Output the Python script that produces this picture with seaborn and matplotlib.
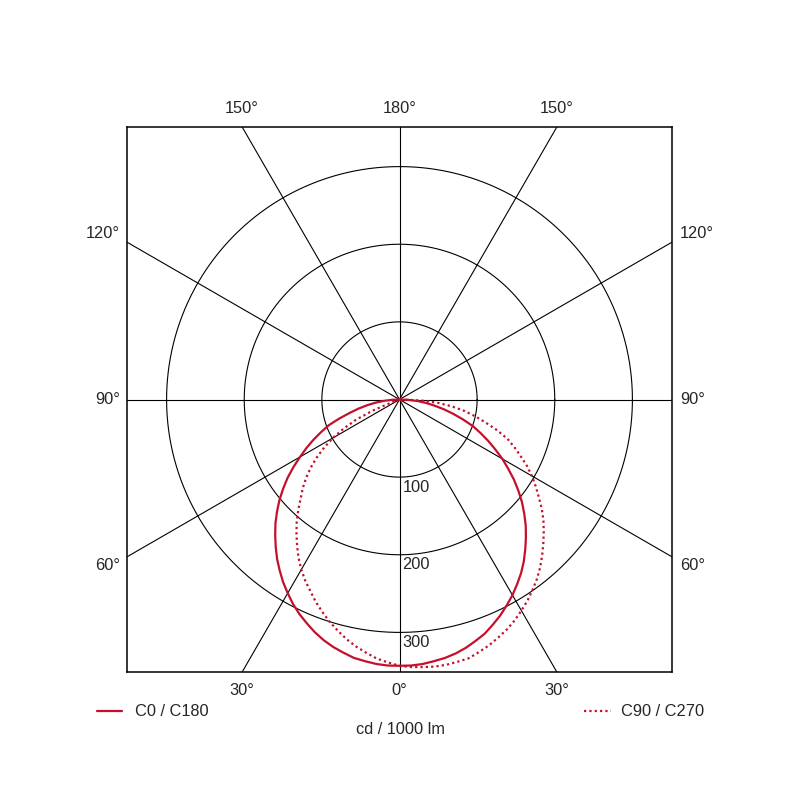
import numpy as np
import pandas as pd
import matplotlib
matplotlib.use('Agg')
import matplotlib.pyplot as plt
import seaborn as sns

# Luminous intensity distribution, cd / 1000 lm, every 2.5 degrees
gamma = [0, 2.5, 5, 7.5, 10, 12.5, 15, 17.5, 20, 22.5, 25, 27.5, 30, 32.5, 35, 37.5,
         40, 42.5, 45, 47.5, 50, 52.5, 55, 57.5, 60, 62.5, 65, 67.5, 70, 72.5, 75,
         77.5, 80, 82.5, 85, 87.5, 90]
c0 = [343, 343, 342, 340, 338, 335, 331, 326, 321, 314, 307, 299, 291, 282, 273, 263,
      252, 241, 230, 218, 206, 193, 180, 166, 153, 139, 126, 113, 101, 86, 72,
      59, 46, 35, 24, 12, 0]
c180 = [343, 343, 342, 340, 338, 334, 330, 325, 319, 312, 305, 297, 288, 279, 269, 259,
        248, 237, 226, 214, 202, 189, 176, 162, 148, 135, 122, 109, 97, 81, 66,
        54, 42, 31, 20, 10, 0]
c90 = [343, 345, 346, 347, 347, 346, 345, 341, 337, 332, 327, 321, 314, 307, 299, 291,
       282, 272, 262, 252, 242, 231, 219, 208, 197, 185, 172, 160, 148, 132, 115,
       100, 85, 68, 50, 27, 0]
c270 = [343, 339, 335, 329, 323, 316, 308, 300, 291, 282, 272, 263, 253, 242, 230, 218,
        206, 193, 180, 169, 157, 144, 130, 115, 99, 81, 62, 37, 10, 0, 0,
        0, 0, 0, 0, 0, 0]

ring_values = [100, 200, 300]
spoke_angles = [0, 30, 60, 90, 120, 150]
top_labels = ['150°', '180°', '150°']
bottom_labels = ['30°', '0°', '30°']
side_labels = ['120°', '90°', '60°']

RED = '#c4102c'
R = 351  # half width of the square frame, in cd
FS = 11.8

sns.set_style('white')
plt.rcParams['font.family'] = ['Liberation Sans', 'DejaVu Sans']
plt.rcParams['font.size'] = FS


def half_plane(values, side):
    g = np.radians(gamma)
    v = np.array(values, dtype=float)
    return side * v * np.sin(g), -v * np.cos(g)


rows = []
for name, left, right in [('C0 / C180', c180, c0), ('C90 / C270', c270, c90)]:
    xl, yl = half_plane(left, -1)
    xr, yr = half_plane(right, 1)
    xs = np.concatenate([xl[::-1], xr[1:]])
    ys = np.concatenate([yl[::-1], yr[1:]])
    for i, (x, y) in enumerate(zip(xs, ys)):
        rows.append({'plane': name, 'step': i, 'x': x, 'y': y})
df = pd.DataFrame(rows)

fig = plt.figure(figsize=(8, 8), dpi=100)
ax = fig.add_axes([127 / 800, 128 / 800, 545 / 800, 545 / 800])

# grid: rings and spokes
t = np.linspace(0, 2 * np.pi, 400)
for r in ring_values:
    ax.plot(r * np.cos(t), r * np.sin(t), color='black', lw=0.8, zorder=1)
    ax.text(4, -(r + 13), str(r), ha='left', va='center', fontsize=FS)
for a in spoke_angles:
    d = np.radians(a)
    L = 3 * R
    ax.plot([-L * np.sin(d), L * np.sin(d)], [-L * np.cos(d), L * np.cos(d)],
            color='black', lw=0.8, zorder=1)

sns.lineplot(data=df, x='x', y='y', hue='plane', style='plane', sort=False,
             estimator=None, units='plane', ax=ax,
             palette={'C0 / C180': RED, 'C90 / C270': RED},
             dashes={'C0 / C180': '', 'C90 / C270': (1, 1.4)},
             linewidth=1.6, zorder=3)

handles, labels = ax.get_legend_handles_labels()
ax.get_legend().remove()

ax.set_xlim(-R, R)
ax.set_ylim(-R, R)
ax.set_aspect('equal')
ax.set_xticks([])
ax.set_yticks([])
ax.set_xlabel('')
ax.set_ylabel('')
for s in ax.spines.values():
    s.set_color('black')
    s.set_linewidth(1.1)

# angle labels round the frame
tan30 = np.tan(np.radians(30))
for k, lab in zip([-1, 0, 1], top_labels):
    ax.text(k * R * tan30, R + 24, lab, ha='center', va='center', clip_on=False)
for k, lab in zip([-1, 0, 1], bottom_labels):
    ax.text(k * R * tan30, -(R + 24), lab, ha='center', va='center', clip_on=False)
for k, lab in zip([1, 0, -1], side_labels):
    ax.text(-(R + 9), k * (R + 20) * tan30, lab, ha='right', va='center', clip_on=False)
    ax.text(R + 10, k * (R + 20) * tan30, lab, ha='left', va='center', clip_on=False)

# split legend: solid on the left, dotted on the right
fig.legend([handles[0]], [labels[0]], loc='center left', frameon=False,
           bbox_to_anchor=(97 / 800, 1 - 712 / 800), borderpad=0, borderaxespad=0,
           handlelength=1.55, handletextpad=0.75, fontsize=FS)
fig.legend([handles[1]], [labels[1]], loc='center right', frameon=False,
           bbox_to_anchor=(704 / 800, 1 - 712 / 800), borderpad=0, borderaxespad=0,
           handlelength=1.65, handletextpad=0.6, fontsize=FS)

fig.text(0.5, 1 - 730 / 800, 'cd / 1000 lm', ha='center', va='center', fontsize=FS)

fig.savefig('out.png', dpi=100, facecolor='white')
